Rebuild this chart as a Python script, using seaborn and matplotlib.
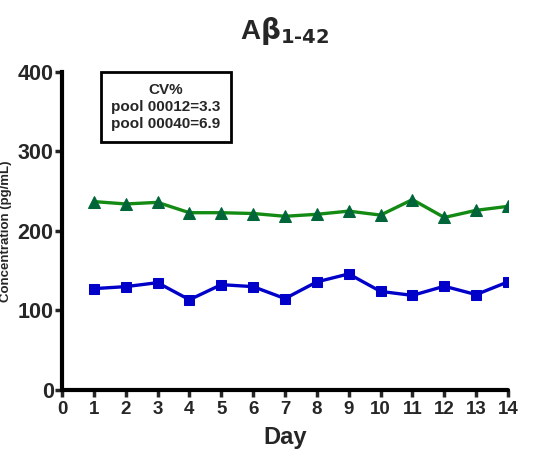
import numpy as np
import pandas as pd
import matplotlib
matplotlib.use("Agg")
import matplotlib.pyplot as plt
import seaborn as sns

# --- DATA ---
days = list(range(1, 15))
pool_00012 = [237, 234, 236, 223, 223, 222, 218.5, 221, 225, 220, 239.5, 217, 226, 231]
pool_00040 = [127.5, 130, 135, 113.5, 132.5, 130, 115, 136, 146, 124, 119, 130.5, 120, 136]
x_ticks = list(range(0, 15))
y_ticks = [0, 100, 200, 300, 400]
cv_text = "CV%\npool 00012=3.3\npool 00040=6.9"

df = pd.DataFrame({
    "Day": days * 2,
    "conc": pool_00012 + pool_00040,
    "pool": ["00012"] * len(days) + ["00040"] * len(days),
})

sns.set_style("ticks")
plt.rcParams["font.family"] = ["Liberation Sans", "DejaVu Sans"]
plt.rcParams["font.weight"] = "bold"

fig = plt.figure(figsize=(5.5, 4.58), dpi=100)
ax = fig.add_axes([0.1127, 0.1485, 0.8109, 0.6943])

# green line with dark-green triangles
sns.lineplot(data=df[df["pool"] == "00012"], x="Day", y="conc", ax=ax,
             color="#138a13", linewidth=2.4, marker="^", markersize=8,
             markerfacecolor="#00663a", markeredgecolor="#00663a")
# blue line with squares
sns.lineplot(data=df[df["pool"] == "00040"], x="Day", y="conc", ax=ax,
             color="#0000c8", linewidth=2.4, marker="s", markersize=7,
             markerfacecolor="#0000c8", markeredgecolor="#0000c8")

ax.set_xlim(0, 14)
ax.set_ylim(0, 400)
ax.set_xticks(x_ticks)
ax.set_yticks(y_ticks)
ax.tick_params(axis="x", labelsize=13.5, width=2.5, length=5, pad=3)
ax.tick_params(axis="y", labelsize=15.5, width=2.5, length=5, pad=1)
for lbl in ax.get_xticklabels() + ax.get_yticklabels():
    lbl.set_fontweight("bold")

for s in ["top", "right"]:
    ax.spines[s].set_visible(False)
for s in ["left", "bottom"]:
    ax.spines[s].set_linewidth(3)
    ax.spines[s].set_color("black")
ax.spines["bottom"].set_capstyle("round")

ax.set_xlabel("Day", fontsize=17, fontweight="bold", labelpad=6)
ax.set_ylabel("Concentration (pg/mL)", fontsize=9.5, fontweight="bold")
ax.yaxis.set_label_coords(-0.112, 0.5)

ax.set_title(r"A$\mathbf{\beta}_{\mathbf{1\text{-}42}}$", fontsize=20, fontweight="bold", pad=24)

ax.text(0.233, 0.89, cv_text, transform=ax.transAxes, ha="center", va="center",
        fontsize=11, fontweight="bold", linespacing=1.3,
        bbox=dict(boxstyle="square,pad=0.7", facecolor="white", edgecolor="black", linewidth=2))

fig.savefig("out.png", dpi=100)
